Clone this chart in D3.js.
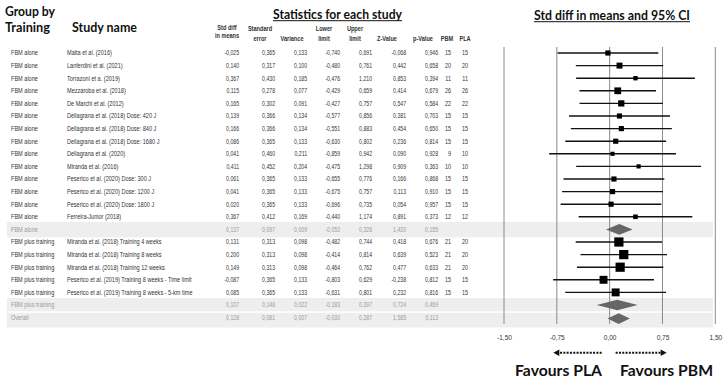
<!DOCTYPE html>
<html><head><meta charset="utf-8">
<script src="https://cdn.jsdelivr.net/npm/d3@7"></script>
<style>body{margin:0;background:#fff}</style>
</head><body><svg id="c" width="728" height="384"></svg>
<script>
const groups = ["FBM alone","FBM alone","FBM alone","FBM alone","FBM alone","FBM alone","FBM alone","FBM alone","FBM alone","FBM alone","FBM alone","FBM alone","FBM alone","FBM alone","FBM alone",
  "FBM plus training","FBM plus training","FBM plus training","FBM plus training","FBM plus training","FBM plus training","Overall"];
const studies = ["Malta et al. (2016)","Lanferdini et al. (2021)","Torrazoni et a. (2019)","Mezzaroba et al. (2018)","De Marchi et al. (2012)",
  "Dellagrana et al. (2018) Dose: 420 J","Dellagrana et al. (2018) Dose: 840 J","Dellagrana et al. (2018) Dose: 1680 J","Dellagrana et al. (2020)",
  "Miranda et al. (2016)","Peserico et al. (2020) Dose: 300 J","Peserico et al. (2020) Dose: 1200 J","Peserico et al. (2020) Dose: 1800 J",
  "Ferreira-Junior (2018)","",
  "Miranda et al. (2018) Training 4 weeks","Miranda et al. (2018) Training 8 weeks","Miranda et al. (2018) Training 12 weeks",
  "Peserico et al. (2019) Training 8 weeks - Time limit","Peserico et al. (2019) Training 8 weeks - 5-km time","",""];
const rowType = ["s","s","s","s","s","s","s","s","s","s","s","s","s","s","sub","s","s","s","s","s","sub","all"];
const smd      = [-0.025,0.140,0.367,0.115,0.165,0.139,0.166,0.086,0.041,0.411,0.061,0.041,0.020,0.367,0.137,0.131,0.200,0.149,-0.087,0.085,0.107,0.128];
const stdErr   = [0.365,0.317,0.430,0.278,0.302,0.366,0.366,0.365,0.460,0.452,0.365,0.365,0.365,0.412,0.097,0.313,0.313,0.313,0.365,0.365,0.148,0.081];
const variance = [0.133,0.100,0.185,0.077,0.091,0.134,0.134,0.133,0.211,0.204,0.133,0.133,0.133,0.169,0.009,0.098,0.098,0.098,0.133,0.133,0.022,0.007];
const lower    = [-0.740,-0.480,-0.476,-0.429,-0.427,-0.577,-0.551,-0.630,-0.859,-0.475,-0.655,-0.675,-0.696,-0.440,-0.052,-0.482,-0.414,-0.464,-0.803,-0.631,-0.183,-0.030];
const upper    = [0.691,0.761,1.210,0.659,0.757,0.856,0.883,0.802,0.942,1.298,0.776,0.757,0.735,1.174,0.326,0.744,0.814,0.762,0.629,0.801,0.397,0.287];
const zValue   = [-0.068,0.442,0.853,0.414,0.547,0.381,0.454,0.236,0.090,0.909,0.166,0.113,0.054,0.891,1.420,0.418,0.639,0.477,-0.238,0.232,0.724,1.585];
const pValue   = [0.946,0.658,0.394,0.679,0.584,0.703,0.650,0.814,0.928,0.363,0.868,0.910,0.957,0.373,0.155,0.676,0.523,0.633,0.812,0.816,0.469,0.113];
const nPBM     = [15,20,11,26,22,15,15,15,9,10,15,15,15,12,null,21,21,21,15,15,null,null];
const nPLA     = [15,20,11,26,22,15,15,15,10,10,15,15,15,12,null,20,20,20,15,15,null,null];
const xTicks = [-1.5,-0.75,0,0.75,1.5];

const svg = d3.select("#c");
const x = d3.scaleLinear().domain([-1.5,1.5]).range([504,715.3]);
const y = d3.scaleLinear().domain([0,21]).range([53,317.6]);
const fmt = v => d3.format(".3f")(v).replace("−","-").replace(".",",");
const TF = "'Liberation Sans', Arial, sans-serif";
const HF = "Lato, 'Open Sans', sans-serif";

// shaded bands
const band = svg.append("g");
band.append("rect").attr("x",7).attr("width",706).attr("y",y(14)-7.5).attr("height",15.5).attr("fill","#eeeeee");
band.append("rect").attr("x",7).attr("width",706).attr("y",y(20)-7).attr("height",(y(20)+y(21))/2-(y(20)-7)).attr("fill","#eeeeee");
band.append("rect").attr("x",7).attr("width",706).attr("y",(y(20)+y(21))/2+1.5).attr("height",y(21)+10-((y(20)+y(21))/2+1.5)).attr("fill","#eeeeee");

// grid lines
svg.append("g").selectAll("line").data(xTicks).join("line")
  .attr("x1",d=>x(d)).attr("x2",d=>x(d)).attr("y1",47).attr("y2",324)
  .attr("stroke","#8a8a8a").attr("stroke-width",1);

// axis labels
const ax = svg.append("g").attr("transform","translate(0,335)")
  .call(d3.axisBottom(x).tickValues(xTicks).tickSize(0).tickFormat(d=>d3.format(".2f")(d).replace("−","-").replace(".",",")));
ax.select(".domain").remove();
ax.selectAll("text").attr("font-family",TF).attr("font-size",6.5).attr("fill","#333").attr("dy","0.3em");

// titles
function title(txt, x0, yb, len, size, underline){
  svg.append("text").attr("x",x0).attr("y",yb).text(txt)
    .attr("font-family",HF).attr("font-weight","bold").attr("font-size",size).attr("fill","#111")
    .attr("textLength",len).attr("lengthAdjust","spacingAndGlyphs");
  if(underline) svg.append("line").attr("x1",x0).attr("x2",x0+len).attr("y1",yb+2.2).attr("y2",yb+2.2).attr("stroke","#111").attr("stroke-width",1);
}
title("Group by",5,16,50,13.5);
title("Training",5,32,45,13.5);
title("Study name",72,32,65,13.5);
title("Statistics for each study",273,18.5,129,12.5,true);
title("Std diff in means and 95% CI",534,19.5,156,12.5,true);
title("Favours PLA",515,376,87,16);
title("Favours PBM",620,376,93,16);

// column headers
const hdr = [["Std diff","in means",227,27.5,36],["Standard","error",260,29,39],["","Variance",292,29,39],["Lower","limit",324,29,39],
  ["Upper","limit",355,29,39],["","Z-Value",387,29,39],["","p-Value",423,29,39],["","PBM",447,29,39],["","PLA",465,29,39]];
const hg = svg.append("g").attr("font-family",TF).attr("font-weight","bold").attr("font-size",6.6).attr("fill","#333").attr("text-anchor","middle");
hdr.forEach(h=>{
  if(h[0]) hg.append("text").attr("transform",`translate(${h[2]},${h[3]+2}) scale(0.85,1)`).text(h[0]);
  hg.append("text").attr("transform",`translate(${h[2]},${h[4]+2}) scale(0.85,1)`).text(h[1]);
});

// table rows
const rows = d3.range(smd.length);
const tg = svg.append("g").attr("font-family",TF).attr("font-size",6.8);
rows.forEach(i=>{
  const col = rowType[i]==="s" ? "#333" : "#999";
  const yy = y(i)+2.4;
  const put = (txt, xx, anchor, sx) => tg.append("text").attr("transform",`translate(${xx},${yy}) scale(${sx},1)`)
    .attr("text-anchor",anchor).attr("fill",col).text(txt);
  put(groups[i],11,"start",0.82);
  if(studies[i]) put(studies[i],67,"start",0.82);
  put(fmt(smd[i]),239,"end",0.76);
  put(fmt(stdErr[i]),275,"end",0.76);
  put(fmt(variance[i]),307,"end",0.76);
  put(fmt(lower[i]),340,"end",0.76);
  put(fmt(upper[i]),372,"end",0.76);
  put(fmt(zValue[i]),406,"end",0.76);
  put(fmt(pValue[i]),438,"end",0.76);
  if(nPBM[i]!=null) put(String(nPBM[i]),451,"end",0.8);
  if(nPLA[i]!=null) put(String(nPLA[i]),468,"end",0.8);
});

// forest marks
const studyRows = rows.filter(i=>rowType[i]==="s");
const sumW = {};
studyRows.forEach(i=>{ sumW[groups[i]] = (sumW[groups[i]]||0) + 1/variance[i]; });
const fg = svg.append("g");
fg.selectAll("line.ci").data(studyRows).join("line").attr("class","ci")
  .attr("x1",i=>x(lower[i])).attr("x2",i=>x(upper[i])).attr("y1",i=>y(i)).attr("y2",i=>y(i))
  .attr("stroke","#111").attr("stroke-width",1.4);
fg.selectAll("rect.pt").data(studyRows).join("rect").attr("class","pt")
  .each(function(i){
    const s = 19.5*Math.sqrt((1/variance[i])/sumW[groups[i]]);
    d3.select(this).attr("x",x(smd[i])-s/2).attr("y",y(i)-s/2).attr("width",s).attr("height",s);
  }).attr("fill","#000");
const diaRows = rows.filter(i=>rowType[i]!=="s");
fg.selectAll("path.dia").data(diaRows).join("path").attr("class","dia")
  .attr("d",i=>{const h=5.3, yc=y(i)+(rowType[i]==="all"?1:0);
    return `M${x(lower[i])},${yc}L${x(smd[i])},${yc-h}L${x(upper[i])},${yc}L${x(smd[i])},${yc+h}Z`;})
  .attr("fill","#666");

// direction arrows
const ay = 352.8;
const ag = svg.append("g");
ag.append("line").attr("x1",x(0)-8).attr("x2",x(-0.73)).attr("y1",ay).attr("y2",ay)
  .attr("stroke","#111").attr("stroke-width",2).attr("stroke-dasharray","2,1.3");
ag.append("path").attr("d",`M${x(-0.8)},${ay}L${x(-0.8)+6},${ay-3.2}L${x(-0.8)+6},${ay+3.2}Z`).attr("fill","#111");
ag.append("line").attr("x1",x(0)+6).attr("x2",x(0.74)).attr("y1",ay).attr("y2",ay)
  .attr("stroke","#111").attr("stroke-width",2).attr("stroke-dasharray","2,1.3");
ag.append("path").attr("d",`M${x(0.81)},${ay}L${x(0.81)-6},${ay-3.2}L${x(0.81)-6},${ay+3.2}Z`).attr("fill","#111");
</script></body></html>
